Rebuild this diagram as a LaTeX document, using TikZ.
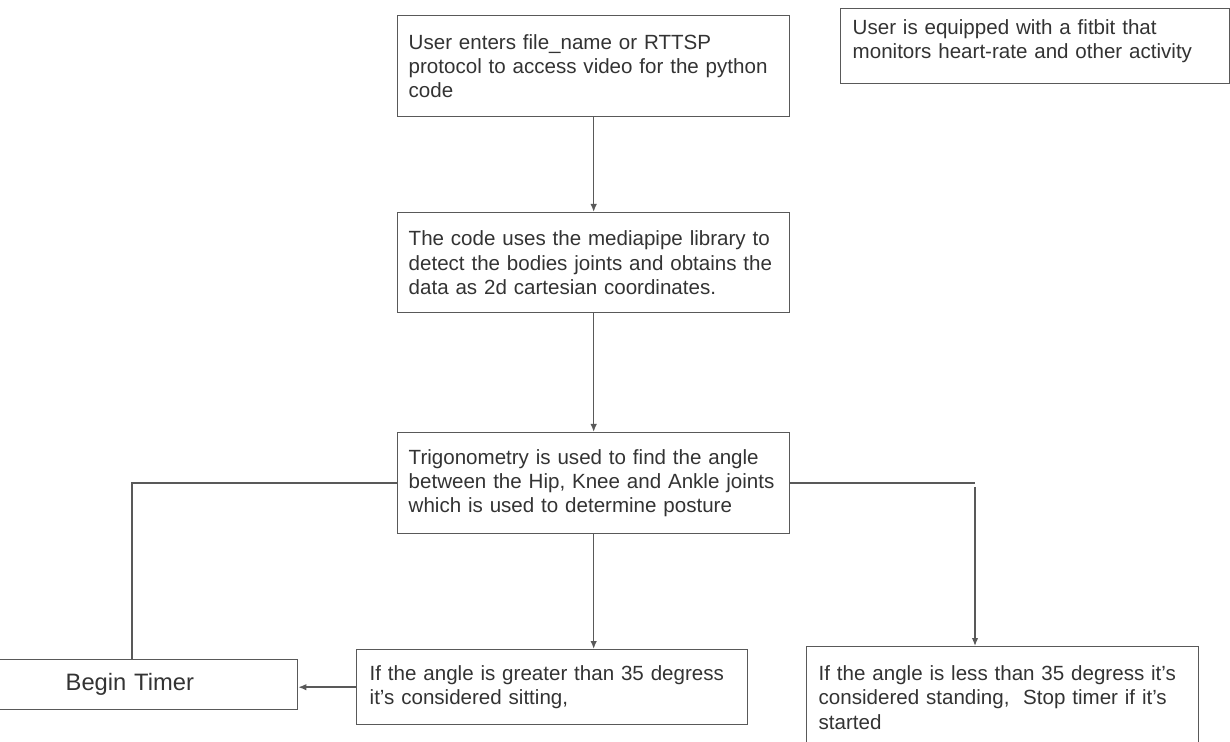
\documentclass[tikz,border=0pt]{standalone}
\usepackage{fontspec}
\setmainfont{Liberation Sans}
\usepackage{tikz}
\usetikzlibrary{arrows.meta}
\usetikzlibrary{calc}

\begin{document}
\begin{tikzpicture}[x=0.02cm,y=-0.02cm]

                \tikzstyle{box}  = [draw=black!65, line width=0.8pt, anchor=north west, align=left, text=black!80, font=\fontsize{11.7}{13.8}\selectfont, inner ysep=0pt]
                \tikzstyle{wire} = [draw=black!65, line width=0.8pt]
                \tikzstyle{arr}  = [wire, -{Latex[length=1.6mm,width=1.3mm]}]
                \useasboundingbox [fill=white] (0,0) rectangle (1230,742);
                \node [box, minimum width=7.84cm, minimum height=2.02cm, text width=7.4cm, inner xsep=0.22cm](src) at (397,15) {User enters file\_name or RTTSP\\protocol to access video for the python\\code};
                \node [box, text width=7.3cm, inner xsep=0.24cm, inner ysep=0.22cm, text depth=0.76cm](fitbit) at (840,8) {User is equipped with a fitbit that\\monitors heart-rate and other activity};
                \node [box, minimum width=7.84cm, minimum height=2.0cm, text width=7.4cm, inner xsep=0.22cm](pipe) at (397,212) {The code uses the mediapipe library to\\detect the bodies joints and obtains the\\data as 2d cartesian coordinates.};
                \node [box, minimum width=7.84cm, minimum height=2.02cm, text width=7.4cm, inner xsep=0.22cm](trig) at (397,432) {Trigonometry is used to find the angle\\between the Hip, Knee and Ankle joints\\which is used to determine posture};
                \node [box, minimum width=5.98cm, minimum height=1cm, text width=3.3cm, inner xsep=1.3cm, font=\fontsize{13.5}{16}\selectfont](timer) at (-2,659) {Begin Timer};
                \node [box, minimum width=7.82cm, minimum height=1.5cm, text width=7.3cm, inner xsep=0.26cm](sit) at (356,649) {If the angle is greater than 35 degress\\it's considered sitting,};
                \node [box, text width=7.36cm, inner xsep=0.24cm, inner ysep=0.38cm, text depth=2.4cm](stand) at (806,646) {If the angle is less than 35 degress it's\\considered standing,\ \ Stop timer if it's\\started};
                \coordinate (lturn) at (132,481);
                \coordinate (rturn) at (975,481);
                \draw [arr] (src) -- (pipe);
                \draw [arr] (pipe) -- (trig);
                \draw [arr] (trig.south) -- (trig.south |- sit.north);
                \draw [wire] (trig.west) -| (lturn |- timer.north);
                \draw [wire] (trig.east) -- (trig.east -| rturn);
                \draw [arr] ($(rturn)+(0,6)$) -- (rturn |- stand.north);
                \draw [arr] (sit.west) -- (sit.west -| timer.east);
\end{tikzpicture}
\end{document}
